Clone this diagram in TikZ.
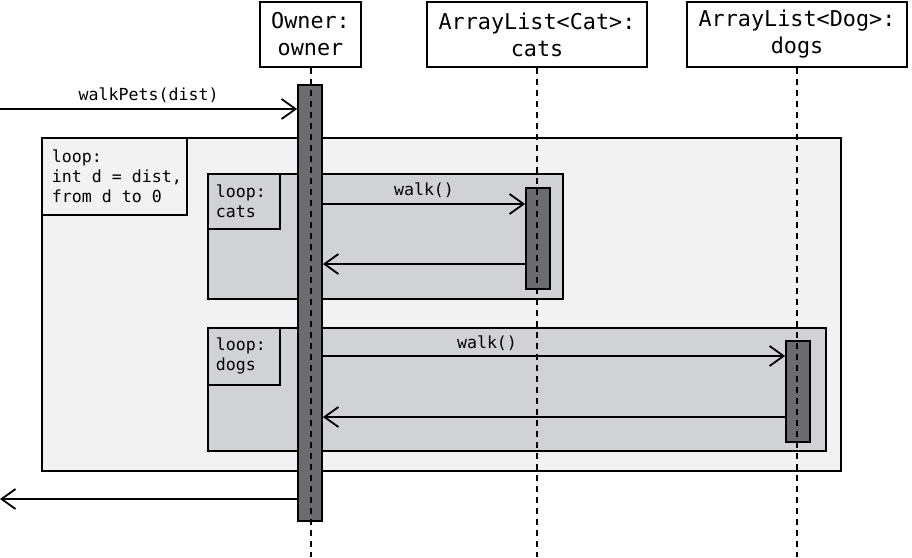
\documentclass[tikz,border=0pt]{standalone}
\usepackage{fontspec}
\setmonofont{DejaVu Sans Mono}
\usetikzlibrary{arrows.meta}
\definecolor{outerfill}{RGB}{242,242,242}
\definecolor{innerfill}{RGB}{209,210,212}
\definecolor{actfill}{RGB}{108,108,112}
\newcommand\monofixsp{\spaceskip=\fontdimen2\font\relax}
\begin{document}
\begin{tikzpicture}[x=1pt,y=-1pt,
  head/.style={draw,line width=1.8pt,fill=white,align=center,inner sep=0pt,
    font=\ttfamily\fontsize{21.8}{27}\selectfont},
  frame/.style={draw,line width=1.8pt,anchor=north west,inner sep=0pt},
  looplabel/.style={draw,line width=1.8pt,anchor=north west,inner ysep=0pt,align=left,
    font=\ttfamily\fontsize{16.6}{20}\selectfont,execute at begin node=\monofixsp},
  act/.style={draw,line width=1.8pt,fill=actfill,anchor=north,inner sep=0pt,minimum width=24pt},
  life/.style={line width=2pt,dash pattern=on 6pt off 5pt},
  msg/.style={line width=1.8pt,-{Straight Barb[length=14pt,width=20pt,line width=1.8pt]}},
  lbl/.style={font=\ttfamily\fontsize{16.6}{20}\selectfont,inner sep=0pt}]
\useasboundingbox (0,0) rectangle (912,557);
\coordinate (bot) at (0,557);
% frames
\node[frame,fill=outerfill,minimum width=799pt,minimum height=333pt] (outer) at (41,137) {};
\node[looplabel,fill=outerfill,inner xsep=10pt,text width=125pt,minimum height=77pt] (outerlbl) at (41,137) {loop:\\int~d~=~dist,\\from~d~to~0};
\node[frame,fill=innerfill,minimum width=355pt,minimum height=125pt] (catloop) at (207,173) {};
\node[looplabel,fill=innerfill,inner xsep=8pt,text width=56pt,minimum height=55pt] (catlbl) at (207,173) {loop:\\cats};
\node[frame,fill=innerfill,minimum width=618pt,minimum height=123pt] (dogloop) at (207,327) {};
\node[looplabel,fill=innerfill,inner xsep=8pt,text width=56pt,minimum height=57pt] (doglbl) at (207,327) {loop:\\dogs};
% headers
\node[head,minimum width=101pt,minimum height=65pt] (owner) at (310.5,34.5) {Owner:\\owner};
\node[head,minimum width=220pt,minimum height=65pt] (cats) at (537,34.5) {ArrayList<Cat>:\\cats};
\node[head,minimum width=220pt,minimum height=65pt] (dogs) at (797,34.5) {ArrayList<Dog>:\\dogs};
% activations
\node[act,minimum height=436pt] (oact) at (310,84) {};
\node[act,minimum height=101pt] (cact) at (538,187) {};
\node[act,minimum height=101pt] (dact) at (798,340) {};
% lifelines
\draw[life] (owner.south) -- (owner.south |- bot);
\draw[life] (cats.south) -- (cats.south |- bot);
\draw[life] (dogs.south) -- (dogs.south |- bot);
% messages
\coordinate (m1) at (0,109);
\draw[msg] (m1) -- (m1 -| oact.west) node[lbl,midway,above=5pt] {walkPets(dist)};
\coordinate (m2) at (0,204);
\draw[msg] (m2 -| oact.east) -- (m2 -| cact.west) node[lbl,midway,above=5pt] {walk()};
\coordinate (m3) at (0,264);
\draw[msg] (m3 -| cact.west) -- (m3 -| oact.east);
\coordinate (m4) at (487,356);
\draw[msg] (m4 -| oact.east) -- (m4 -| dact.west);
\node[lbl,above=5pt] (walkdog) at (m4) {walk()};
\coordinate (m5) at (0,417);
\draw[msg] (m5 -| dact.west) -- (m5 -| oact.east);
\coordinate (m6) at (0,499);
\draw[msg] (m6 -| oact.west) -- (m6);
\end{tikzpicture}
\end{document}
